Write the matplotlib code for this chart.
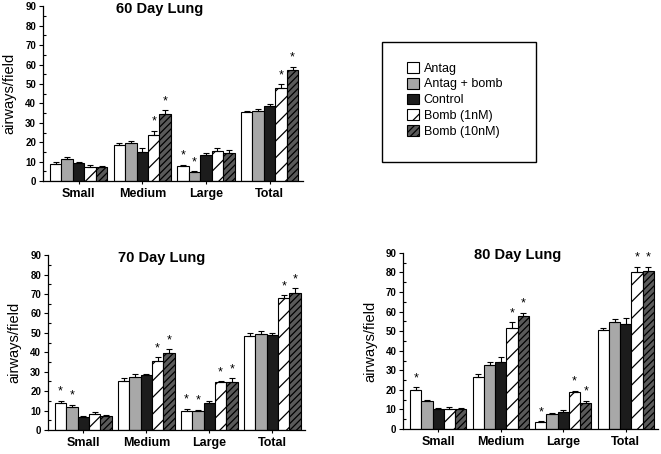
import numpy as np
import matplotlib
matplotlib.use('Agg')
import matplotlib.pyplot as plt
from matplotlib.patches import Patch, Rectangle

plt.rcParams['font.family'] = ['Liberation Sans', 'DejaVu Sans']
plt.rcParams['hatch.linewidth'] = 0.9

# Data
categories = ['Small', 'Medium', 'Large', 'Total']
series = ['Antag', 'Antag + bomb', 'Control', 'Bomb (1nM)', 'Bomb (10nM)']

# rows = series, cols = categories
day60 = [[9, 18.5, 8, 35.5],
         [11.5, 19.5, 4.5, 36],
         [9.5, 15, 13.5, 38.5],
         [7.5, 24, 15.5, 48],
         [7.5, 34.5, 14.5, 57]]
day60_err = [[1, 1, 0.5, 0.5],
             [1, 1, 0.5, 1],
             [0.5, 2, 1, 1],
             [1, 2, 1.5, 2],
             [0.5, 2, 1.5, 2]]
day60_star = [[0, 0, 1, 0],
              [0, 0, 1, 0],
              [0, 0, 0, 0],
              [0, 1, 0, 1],
              [0, 1, 0, 1]]

day70 = [[14, 25, 10, 48.5],
         [12, 27.5, 9.5, 49.5],
         [6.5, 28.5, 14, 49],
         [8, 35.5, 24.5, 68],
         [7, 39.5, 24.5, 70.5]]
day70_err = [[1, 1.5, 1, 1.5],
             [1, 1.5, 1, 1.5],
             [0.5, 0.5, 1, 1],
             [1, 2, 0.5, 1.5],
             [0.5, 2, 2, 2.5]]
day70_star = [[1, 0, 1, 0],
              [1, 0, 1, 0],
              [0, 0, 0, 0],
              [0, 1, 1, 1],
              [0, 1, 1, 1]]

day80 = [[20, 26.5, 3.5, 50.5],
         [14.5, 32.5, 7.5, 54.5],
         [10, 34.5, 8.5, 53.5],
         [10, 51.5, 19, 80],
         [10, 57.5, 13.5, 80.5]]
day80_err = [[1.5, 1.5, 0.5, 1],
             [0.5, 1.5, 0.5, 1.5],
             [1, 2.5, 1, 3],
             [1.5, 3, 0.5, 3],
             [0.5, 2, 1, 2.5]]
day80_star = [[1, 0, 1, 0],
              [0, 0, 0, 0],
              [0, 0, 0, 0],
              [0, 1, 1, 1],
              [0, 1, 1, 1]]

styles = [dict(facecolor='white', hatch=None),
          dict(facecolor='#a8a8a8', hatch=None),
          dict(facecolor='#1c1c1c', hatch=None),
          dict(facecolor='white', hatch='//'),
          dict(facecolor='#5a5a5a', hatch='/////')]

fig = plt.figure(figsize=(6.61, 4.54), dpi=100)
fig.patch.set_facecolor('white')


def draw_panel(ax, vals, errs, stars, title, title_x):
    x = np.arange(len(categories))
    w = 0.18
    for i in range(len(series)):
        pos = x + (i - 2) * w
        ax.bar(pos, vals[i], width=w, edgecolor='black', linewidth=0.8,
               yerr=[np.zeros(len(categories)), errs[i]],
               error_kw=dict(ecolor='black', elinewidth=0.8, capsize=2, capthick=0.8),
               **styles[i])
        for j in range(len(categories)):
            if stars[i][j]:
                ax.text(pos[j], vals[i][j] + errs[i][j] + 1.5, '*', ha='center',
                        va='bottom', fontsize=9)
    ax.set_xlim(-0.56, 3.52)
    ax.set_ylim(0, 90)
    ax.set_yticks(np.arange(0, 91, 10))
    ax.set_yticks(np.arange(5, 90, 10), minor=True)
    ax.tick_params(axis='y', which='major', direction='out', length=3, width=0.8,
                   labelsize=7, pad=2)
    ax.tick_params(axis='y', which='minor', direction='in', length=2, width=0.8)
    ax.set_xticks(x)
    ax.set_xticklabels(categories, fontsize=9, fontweight='bold')
    ax.tick_params(axis='x', direction='out', length=2, width=0.8, pad=3)
    for lab in ax.get_yticklabels():
        lab.set_fontweight('bold')
    ax.spines['top'].set_visible(False)
    ax.spines['right'].set_visible(False)
    ax.spines['left'].set_linewidth(0.9)
    ax.spines['bottom'].set_linewidth(0.9)
    ax.set_ylabel('airways/field', fontsize=10.5, labelpad=6)
    ax.text(title_x, 1.025, title, transform=ax.transAxes, ha='center', va='top',
            fontsize=10.5, fontweight='bold')


ax1 = fig.add_axes([0.065, 0.601, 0.393, 0.385])
draw_panel(ax1, day60, day60_err, day60_star, '60 Day Lung', 0.45)

ax2 = fig.add_axes([0.0726, 0.053, 0.389, 0.385])
draw_panel(ax2, day70, day70_err, day70_star, '70 Day Lung', 0.44)

ax3 = fig.add_axes([0.610, 0.055, 0.386, 0.388])
draw_panel(ax3, day80, day80_err, day80_star, '80 Day Lung', 0.45)

# legend box
fig.patches.append(Rectangle((382 / 661, 1 - 162 / 454), 154 / 661, 120 / 454,
                             transform=fig.transFigure, facecolor='white',
                             edgecolor='black', linewidth=1.0))
handles = [Patch(edgecolor='black', linewidth=0.8, label=s, **st)
           for s, st in zip(series, styles)]
fig.legend(handles=handles, loc='upper left', bbox_to_anchor=(407 / 661, 1 - 62 / 454),
           frameon=False, fontsize=9, handlelength=0.95, handleheight=0.95,
           handletextpad=0.4, labelspacing=0.25, borderpad=0, borderaxespad=0)

fig.savefig('out.png', dpi=100, facecolor='white')
